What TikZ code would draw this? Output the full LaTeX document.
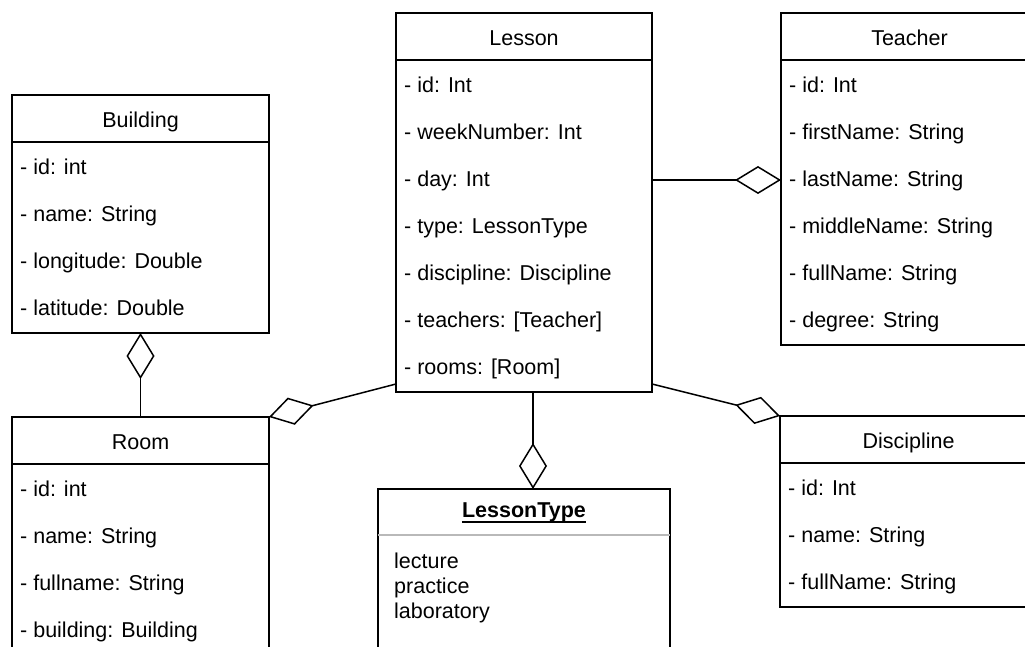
\documentclass[tikz,border=0pt]{standalone}
\usepackage{fontspec}
\setmainfont{Liberation Sans}
\usetikzlibrary{arrows.meta,calc}
\newcommand{\umlcls}[7]{%
  \node[box, minimum width=#4pt, minimum height=#5pt] (#1) at (#2,#3) {};
  \draw[rule] ($(#1.north west)+(0,47)$) -- ($(#1.north east)+(0,47)$);
  \node[ctitle] (#1-title) at ($(#1.north)+(0,32.5)$) {#6};
  \foreach \t [count=\i] in {#7} {
    \node[attr] (#1-\i) at ($(#1.north west)+(8,79.5+47*\i-47)$) {\t};
  }
}
\begin{document}
\begin{tikzpicture}[x=1pt,y=-1pt,
  box/.style={draw, line width=1.5pt, anchor=north west, inner sep=0pt, outer sep=0pt},
  rule/.style={line width=1.5pt},
  ctitle/.style={font=\fontsize{21.5}{25}\selectfont, anchor=base, inner sep=0pt},
  attr/.style={font=\fontsize{21.5}{25}\selectfont, anchor=base west, inner sep=0pt},
  agg/.style={line width=1.5pt, -{Diamond[open, length=46pt, width=28pt, line width=1.5pt]}},
]
\useasboundingbox (0,0) rectangle (1025,647);
\fill[white] (0,0) rectangle (1025,647);
\clip (0,0) rectangle (1025,647);

\umlcls{lesson}{396}{13}{256}{379}{Lesson}{{- id: Int},{- weekNumber: Int},{- day: Int},{- type: LessonType},{- discipline: Discipline},{- teachers: [Teacher]},{- rooms: [Room]}}
\umlcls{teacher}{781}{13}{257}{332}{Teacher}{{- id: Int},{- firstName: String},{- lastName: String},{- middleName: String},{- fullName: String},{- degree: String}}
\umlcls{building}{12}{95}{257}{238}{Building}{{- id: int},{- name: String},{- longitude: Double},{- latitude: Double}}
\umlcls{room}{12}{417}{257}{250}{Room}{{- id: int},{- name: String},{- fullname: String},{- building: Building}}
\umlcls{discipline}{780}{416}{257}{191}{Discipline}{{- id: Int},{- name: String},{- fullName: String}}

% LessonType enumeration
\node[box, minimum width=292pt, minimum height=200pt] (ltype) at (378,489) {};
\draw[line width=1.2pt, gray!55] ($(ltype.north west)+(0,46)$) -- ($(ltype.north east)+(0,46)$);
\node[ctitle, font=\fontsize{21.5}{25}\selectfont\bfseries] (ltype-title) at ($(ltype.north)+(0,28)$) {LessonType};
\draw[line width=1.3pt] ($(ltype-title.base west)+(0,5)$) -- ($(ltype-title.base east)+(0,5)$);
\node[attr] (ltype-1) at ($(ltype.north west)+(16,79)$) {lecture};
\node[attr] (ltype-2) at ($(ltype.north west)+(16,104)$) {practice};
\node[attr] (ltype-3) at ($(ltype.north west)+(16,129)$) {laboratory};

% aggregations
\draw[agg] ($(lesson.north east)+(0,167)$) -- ($(teacher.north west)+(0,167)$);
\draw[agg] ($(lesson.south west)+(0,-8)$) -- (room.north east);
\draw[agg] ($(lesson.south east)+(0,-8)$) -- (discipline.north west);
\draw[agg] ($(lesson.south)+(9,0)$) -- ($(ltype.north)+(9,0)$);
\draw[agg] (room.north) -- (building.south);
\end{tikzpicture}
\end{document}
